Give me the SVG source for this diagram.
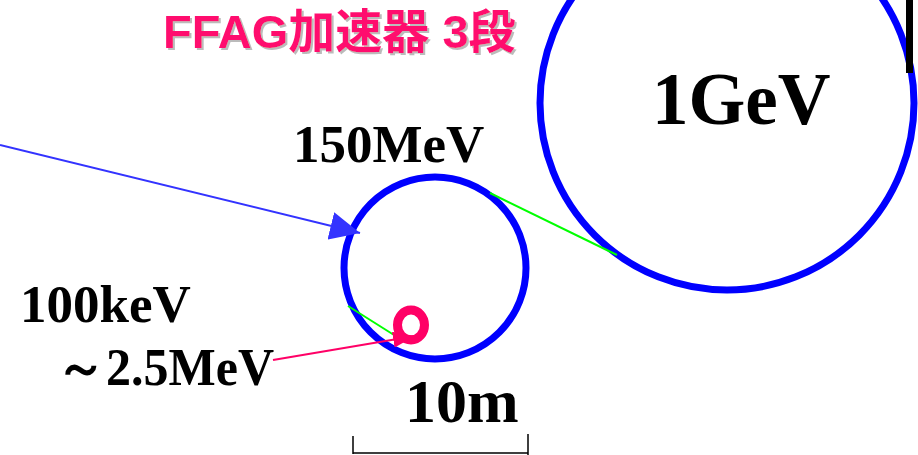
<svg xmlns="http://www.w3.org/2000/svg" width="918" height="455" viewBox="0 0 918 455">
<style>
.ring{fill:none;stroke:#0000FF;stroke-width:7}
.lbl{font-family:"Liberation Serif","Times New Roman",serif;font-weight:bold;fill:#000}
.title{font-family:"Liberation Sans","Noto Sans CJK JP",sans-serif;font-weight:bold;font-size:47px}
.grn{stroke:#00FF00;stroke-width:2}
</style>
<defs>
<filter id="shadow" x="-5%" y="-20%" width="110%" height="140%">
<feDropShadow dx="2" dy="2" stdDeviation="0.6" flood-color="#bbbbbb" flood-opacity="1"/>
</filter>
<marker id="ah-blue" viewBox="0 0 30 28" refX="30" refY="14" markerWidth="30" markerHeight="28" markerUnits="userSpaceOnUse" orient="auto">
<path d="M0,0 L30,14 L0,28 z" fill="#3333FF"/>
</marker>
<marker id="ah-pink" viewBox="0 0 22 16" refX="22" refY="8" markerWidth="22" markerHeight="16" markerUnits="userSpaceOnUse" orient="auto">
<path d="M0,0 L22,8 L0,16 z" fill="#FF0066"/>
</marker>
</defs>
<rect x="0" y="0" width="918" height="455" fill="#fff"/>
<g id="title">
<text class="title" x="163" y="48" fill="#FF0F6E" filter="url(#shadow)">FFAG加速器 3段</text>
</g>
<g id="ring-1GeV">
<circle class="ring" cx="727" cy="103" r="187"/>
<rect x="906" y="0" width="7" height="73" fill="#000"/>
<text class="lbl" x="652" y="124" font-size="73">1GeV</text>
</g>
<g id="ring-150MeV">
<circle class="ring" cx="435" cy="268" r="91"/>
<text class="lbl" x="293" y="162" font-size="53">150MeV</text>
</g>
<g id="ring-small">
<ellipse cx="411" cy="325" rx="13.5" ry="15" fill="none" stroke="#FF0066" stroke-width="9"/>
<text class="lbl" x="20" y="322" font-size="53">100keV</text>
<text class="lbl" x="56" y="385" font-size="53" textLength="218" lengthAdjust="spacingAndGlyphs">～2.5MeV</text>
</g>
<g id="scale">
<text class="lbl" x="405" y="422" font-size="62">10m</text>
<path d="M353,436 V454 M528,434 V455 M353,453 H528" stroke="#000" stroke-width="1.5" fill="none"/>
</g>
<g id="connectors">
<line class="grn" x1="348" y1="306" x2="394" y2="335"/>
<line class="grn" x1="490" y1="193" x2="617" y2="255"/>
<line x1="0" y1="145" x2="360" y2="233" stroke="#3333FF" stroke-width="2" marker-end="url(#ah-blue)"/>
<line x1="273" y1="360" x2="415" y2="336" stroke="#FF0066" stroke-width="2" marker-end="url(#ah-pink)"/>
</g>
</svg>
